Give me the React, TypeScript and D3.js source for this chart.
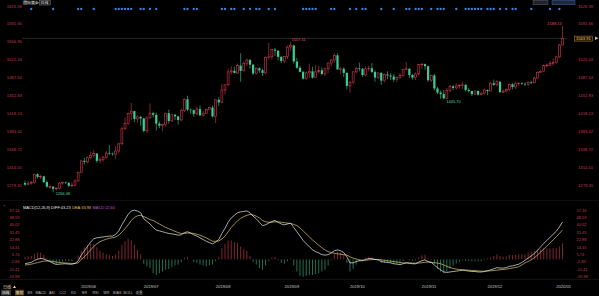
import React from "react";
import * as d3 from "d3";

const WIDTH = 599;
const HEIGHT = 296;

const FIRST_DAY = "2019-05-08";
const LAST_DAY = "2020-01-06";
const HOLIDAYS = ["2020-01-01"];

const OPEN = [1284,1281,1284,1285,1301,1296,1297,1286,1277,1277,1273,1274,1284,1285,1284,1279,1280,1288,
1305,1327,1325,1333,1337,1341,1327,1330,1334,1342,1341,1340,1346,1360,1389,1399,1419,1423,1408,1412,
1409,1385,1410,1419,1416,1399,1395,1397,1419,1404,1416,1413,1406,1424,1446,1426,1425,1418,1427,1415,1419,1426,1430,
1413,1445,1440,1464,1474,1499,1501,1497,1511,1501,1515,1522,1513,1496,1506,1502,1497,1527,1528,1542,1540,1528,
1520,1529,1547,1550,1519,1507,1499,1486,1497,1500,1488,1499,1502,1495,1505,1516,1522,1531,1504,1505,1497,
1472,1479,1499,1506,1505,1493,1505,1506,1499,1488,1497,1482,1494,1492,1490,1484,1488,1492,1504,1505,1493,1488,1495,
1513,1514,1510,1483,1492,1467,1459,1456,1448,1463,1471,1468,1472,1473,1474,1464,1462,1456,1462,1455,1458,
1464,1462,1477,1474,1480,1460,1462,1465,1475,1470,1476,1477,1476,1475,1479,1478,1487,1498,1500,1511,1512,1515,
1517,1528,1551];
const HIGH = [1289,1288,1288,1302,1303,1300,1298,1289,1281,1278,1276,1286,1287,1287,1286,1285,1291,1306,
1328,1333,1335,1345,1348,1342,1334,1337,1346,1358,1343,1355,1362,1393,1411,1420,1439,1424,1415,1414,
1410,1413,1438,1422,1420,1403,1399,1420,1426,1418,1418,1414,1428,1448,1453,1428,1426,1433,1434,1424,1428,1432,1434,
1446,1450,1476,1475,1505,1510,1509,1515,1535,1519,1525,1524,1514,1508,1508,1505,1529,1555,1543,1545,1541,1530,
1530,1550,1557.11,1552,1526,1511,1501,1499,1515,1509,1512,1511,1508,1507,1517,1524,1535,1535,1509,1508,1498,
1482,1500,1509,1517,1506,1510,1511,1516,1502,1498,1499,1496,1500,1497,1495,1490,1497,1505,1518,1506,1495,1498,1514,
1516,1515,1511,1494,1495,1470,1463,1464,1468,1474,1474,1477,1475,1479,1475,1468,1463,1463,1463,1459,1466,
1465,1479,1484,1483,1481,1465,1467,1477,1477,1480,1479,1479,1479,1481,1482,1489,1500,1502,1513,1515,1520,1525,
1530,1553,1588.13];
const LOW = [1279,1280,1281,1283,1293,1292,1284,1275,1273,1266.08,1270,1272,1281,1283,1276,1276,1277,1287,
1304,1320,1322,1330,1333,1323,1322,1325,1331,1338,1337,1330,1342,1357,1387,1396,1406,1402,1401,1395,
1382,1381,1409,1411,1386,1390,1384,1393,1399,1403,1406,1397,1404,1421,1423,1418,1412,1415,1414,1413,1418,1425,1411,
1400,1433,1438,1455,1472,1494,1496,1495,1480,1500,1510,1505,1493,1494,1497,1491,1494,1523,1523,1530,1521,1516,
1516,1524,1540,1515,1505,1498,1484,1484,1487,1486,1487,1496,1492,1491,1497,1510,1517,1503,1495,1489,1465,
1459,1476,1496,1500,1489,1490,1500,1496,1480,1485,1474,1478,1485,1483,1480,1479,1486,1490,1502,1487,1484,1483,1492,
1504,1503,1480,1479,1463,1456,1447,1445.70,1446,1460,1464,1465,1467,1466,1461,1459,1452,1455,1453,1453,1455,
1454,1461,1472,1471,1458,1458,1459,1462,1465,1466,1472,1474,1472,1472,1475,1477,1486,1497,1499,1507,1510,1511,
1515,1525,1550];
const CLOSE = [1281,1284,1285,1301,1296,1297,1286,1277,1277,1273,1274,1284,1285,1284,1279,1280,1288,1305,
1327,1325,1333,1337,1341,1327,1330,1334,1342,1341,1340,1346,1360,1389,1399,1419,1423,1408,1412,1409,
1385,1410,1419,1416,1399,1395,1397,1419,1404,1416,1413,1406,1424,1446,1426,1425,1418,1427,1415,1419,1426,1430,1413,
1445,1440,1464,1474,1499,1501,1497,1511,1501,1515,1522,1513,1496,1506,1502,1497,1527,1528,1542,1540,1528,1520,
1529,1547,1550,1519,1507,1499,1486,1497,1500,1488,1499,1502,1495,1505,1516,1522,1531,1504,1505,1497,1472,
1479,1499,1506,1505,1493,1505,1506,1499,1488,1497,1482,1494,1492,1490,1484,1488,1492,1504,1505,1493,1488,1495,1513,
1514,1510,1483,1492,1467,1459,1456,1448,1463,1471,1468,1472,1473,1474,1464,1462,1456,1462,1455,1458,1464,
1462,1477,1474,1480,1460,1462,1465,1475,1470,1476,1477,1476,1475,1479,1478,1487,1498,1500,1511,1512,1515,1517,
1528,1551,1563.91];

const DIFF = [-5.0,-4.2,-3.4,-1.2,0.2,1.2,0.6,-1.0,-2.4,-4.5,-5.8,-5.5,-5.2,-5.0,-5.4,-5.6,-4.6,-1.8,
5,10,15,20,24,25,25.5,26,26.5,27,27,29,33,40,46,52,56,57,56,54,
47,44,41,37,34,33,32,31,30,29.5,29,28,28.5,31,32,30.5,28.5,27,25,23,21,19.5,18,
20,23,30,36,43,48,51,54,55,55.5,56,54,50,47,43,39,40,42,44,45,43,41,
40,41,42,37,32,27,22,18,15,11,9,7.5,5.5,5,5.5,7.5,10,11,10,8,3,
-4,-4,-2.5,-1.5,-1.5,0,1,1,0,-0.5,-2.5,-3,-3.5,-4,-5,-5.5,-6,-5,-4,-4.5,-5,-5,-3,
-1.5,-0.5,-2.5,-3.5,-6.5,-9.5,-12,-14.5,-15,-14.5,-14,-13.5,-13,-12.5,-13,-13.5,-14,-14,-14.5,-14.5,-14,
-13,-12,-11,-9.5,-10,-10,-9.5,-8,-7.5,-6.5,-5.5,-3.5,-1,1.5,4,7,10.5,14.5,18.5,22,25.5,29,32.5,37.5,43.23];
const DEA = [-6.5,-6.0,-5.5,-4.6,-3.7,-2.7,-2.0,-1.8,-1.9,-2.5,-3.1,-3.6,-3.9,-4.1,-4.4,-4.6,-4.6,-4.1,
0,3,7,11,15,18,20.5,22,23.5,24.5,25,26,28,31.5,35.5,40,45,48.5,50.5,51,
49.5,48,46,45,43,41,39,37,35.5,34,32.5,31,30,30,30.5,30.5,30,29,28,26.5,25,23,21,
21,21.5,23.5,27,32,37,41,44.5,47.5,49.5,51,52,51.5,50,48,45,43.5,43,43,43.5,43.5,43,
42.5,42,41.5,40.5,39,36.5,33,29.5,26,22.5,19.5,16.5,13.5,11,9,8,7,6.5,6,5.5,5,
3,1.5,0.5,-0.5,-1,-1,-0.5,-0.2,0,0,-0.5,-1,-1.5,-2,-2.5,-3,-3.5,-4,-4,-4,-4.2,-4.4,-4.2,
-3.8,-3.2,-3.1,-3.2,-3.9,-4.2,-5,-6.5,-8,-9.4,-10.5,-11.2,-11.6,-11.9,-12.1,-12.5,-12.8,-13,-13.3,-13.5,-13.6,
-13.5,-13.2,-12.9,-12.4,-12,-11.6,-11.2,-10.6,-10,-9.3,-8.4,-6.5,-4,-2.5,-0.5,2,5,8.5,12,15.5,19,22.5,26,30,33.93];
const MACD_HIST = [3.0,3.6,4.2,6.8,7.8,7.8,5.2,1.6,-1.0,-4.0,-5.4,-3.8,-2.6,-1.8,-2.0,-2.0,0.0,4.6,
10,14,16,18,18,14,10,8,6,5,4,6,10,17,21,24,22,17,11,6,
-5,-8,-10,-16,-18,-16,-14,-12,-11,-9,-7,-6,-3,2,3,0,-3,-4,-6,-7,-8,-7,-6,
-2,3,13,18,22,22,20,19,15,12,10,4,-3,-6,-10,-12,-7,-2,2,3,-1,-4,
-5,-2,1,-7,-14,-19,-19.98,-19,-18,-18,-17,-16,-14,-12,-7,-1,6,9,8,5,-4,
-14,-11,-6,-2,-1,2,3,2.4,0,-1,-4,-4,-4,-4,-5,-5,-5,-2,0,-1,-1.6,-1.2,2.4,
4.6,5.4,1.2,-0.6,-5.2,-10.6,-14,-16,-14,-10.2,-7,-4.6,-2.8,-1.2,-1.8,-2,-2.4,-2,-2.4,-2,-0.8,
1,2.4,3.8,5.8,4,3.2,3.4,5.2,5,5.6,5.8,6,6,8,9,10,11,12,13,13,13,13,13,15,18.6];

const PRICE_TICKS = ["1279.31","1314.01","1348.72","1383.42","1418.13","1452.83","1487.54","1522.24","1556.95","1591.66","1626.39"];
const MACD_TICKS = ["-19.98","-11.41","-2.83","5.74","14.31","22.88","31.45","40.02","48.59","57.16"];
const MONTH_LABELS = ["2019/06","2019/07","2019/08","2019/09","2019/10","2019/11","2019/12","2020/01"];
const SIGNAL_DAYS = [2,9,17,18,22,29,30,31,32,33,34,37,38,40,42,51,52,54,55,63,64,66,67,70,72,74,75,78,80,
89,90,91,92,93,98,99,104,106,108,109,114,118,122,123,125,126,127,130,132,133,134,138,141,142,143,144,145,146,
148,149,150,152,154,156,157,162,168,171];
const MARKED_HIGHS = [85, 172];
const MARKED_LOWS = [9, 134];
const LAST_PRICE = 1563.91;
const TITLE = "国际黄金";
const PERIOD = "日线";
const MACD_LEGEND = [
  { text: "MACD(12,26,9) DIFF:43.23", color: "#e6e6e6" },
  { text: "DEA:33.93", color: "#e3c85a" },
  { text: "MACD:22.60", color: "#c24fd0" },
];
const TOOL_TABS = ["BS", "MACD", "ASI", "CCI", "KD", "BR", "RSI", "WR", "BIAS", "BOLL", "设置"];

const UP = "#d43a4c";
const DOWN = "#36cf97";
const AXIS_RED = "#c23a52";
const BG = "#000000";
const FONT = "'Liberation Sans', Arial, sans-serif";
const CJK = "'Noto Sans CJK SC', sans-serif";

const parse = d3.timeParse("%Y-%m-%d");
const fmt = d3.timeFormat("%Y-%m-%d");
const monthFmt = d3.timeFormat("%Y/%m");
const DATES = d3
  .timeDay.range(parse(FIRST_DAY)!, d3.timeDay.offset(parse(LAST_DAY)!, 1))
  .filter((d) => d.getDay() !== 0 && d.getDay() !== 6 && !HOLIDAYS.includes(fmt(d)))
  .slice(0, CLOSE.length);
const KEYS = DATES.map(fmt);

export default function App() {
  const x = d3.scaleBand<string>().domain(KEYS).range([23.44, 564.06]).padding(0);
  const bw = x.bandwidth();
  const cx = (i: number) => (x(KEYS[i]) ?? 0) + bw / 2;

  const y = d3
    .scaleLinear()
    .domain([+PRICE_TICKS[0], +PRICE_TICKS[PRICE_TICKS.length - 1]])
    .range([185.5, 6]);
  const ym = d3
    .scaleLinear()
    .domain([+MACD_TICKS[0], +MACD_TICKS[MACD_TICKS.length - 1]])
    .range([276.7, 210]);

  const idx = d3.range(CLOSE.length);
  const lineDiff = d3.line<number>().x((i) => cx(i)).y((i) => ym(DIFF[i]))(idx) || "";
  const lineDea = d3.line<number>().x((i) => cx(i)).y((i) => ym(DEA[i]))(idx) || "";

  const monthPos = MONTH_LABELS.map((m) => {
    const i = DATES.findIndex((d) => monthFmt(d) === m);
    return { m, x: i >= 0 ? cx(i) : 0 };
  });

  const tabX = d3.scalePoint<string>().domain(TOOL_TABS).range([30, 139]);
  const lastY = y(LAST_PRICE);

  return (
    <svg
      width={WIDTH}
      height={HEIGHT}
      style={{ position: "absolute", left: 0, top: 0, display: "block" }}
    >
      <rect x={0} y={0} width={WIDTH} height={HEIGHT} fill={BG} />

      {/* header */}
      <rect x={22.5} y={0.3} width={15} height={4.8} fill="#1e1e1e" />
      <text x={23.2} y={4.1} fontSize={3.9} fill="#d8d8d8" fontFamily={CJK}>{TITLE}</text>
      <text x={37.6} y={4.1} fontSize={3.9} fill="#bbbbbb" fontFamily={FONT}>•</text>
      <rect x={39.6} y={0.5} width={10.6} height={4.5} fill="#1a1a1a" stroke="#9a9a9a" strokeWidth={0.4} />
      <text x={40.6} y={4.1} fontSize={3.9} fill="#dddddd" fontFamily={CJK}>{PERIOD}</text>

      {/* top right buttons */}
      <rect x={533} y={0.3} width={15} height={4.5} fill="#20242c" stroke="#6a6f7a" strokeWidth={0.4} />
      <rect x={552} y={0.3} width={23} height={4.5} fill="#1c2840" stroke="#4f6fb0" strokeWidth={0.4} />

      {/* signal dots */}
      {SIGNAL_DAYS.map((i) => (
        <circle key={"s" + i} cx={cx(i)} cy={9} r={1.15} fill="#3a86e6" />
      ))}

      {/* price axis labels */}
      {PRICE_TICKS.map((t) => (
        <text key={"pl" + t} x={21.8} y={y(+t)} fontSize={4.2} fill={AXIS_RED} textAnchor="end"
          dominantBaseline="central" fontFamily={FONT}>{t}</text>
      ))}
      {PRICE_TICKS.filter((t) => Math.abs(y(+t) - lastY) > 5).map((t) => (
        <text key={"pr" + t} x={578} y={y(+t)} fontSize={4.2} fill={AXIS_RED}
          dominantBaseline="central" fontFamily={FONT}>{t}</text>
      ))}

      {/* last price line */}
      <line x1={22.5} x2={567} y1={lastY} y2={lastY} stroke="#9a9a9a" strokeWidth={0.5} strokeDasharray="1,1" />
      <rect x={574.5} y={lastY - 2.2} width={18} height={5} fill="#1a1208" stroke="#c8902a" strokeWidth={0.5} />
      <text x={576} y={lastY + 0.3} fontSize={4.1} fill="#eac27a" dominantBaseline="central" fontFamily={FONT}>
        {LAST_PRICE.toFixed(2)}
      </text>
      <path d={`M595,${lastY - 1.8} L598.5,${lastY} L595,${lastY + 1.8} Z`} fill="#bdbdbd" />

      {/* candles */}
      {idx.map((i) => {
        const o = OPEN[i], c = CLOSE[i], h = HIGH[i], l = LOW[i];
        const up = c >= o;
        const top = y(Math.max(o, c));
        const bot = y(Math.min(o, c));
        const bh = Math.max(0.6, bot - top);
        const px = cx(i);
        if (up) {
          return (
            <g key={"c" + i}>
              <line x1={px} x2={px} y1={y(h)} y2={top} stroke={UP} strokeWidth={0.6} />
              <line x1={px} x2={px} y1={top + bh} y2={y(l)} stroke={UP} strokeWidth={0.6} />
              <rect x={px - 0.95} y={top} width={1.9} height={bh} fill={BG} stroke={UP} strokeWidth={0.6} />
            </g>
          );
        }
        return (
          <g key={"c" + i}>
            <line x1={px} x2={px} y1={y(h)} y2={y(l)} stroke={DOWN} strokeWidth={0.6} />
            <rect x={px - 1.1} y={top} width={2.2} height={bh} fill={DOWN} />
          </g>
        );
      })}

      {/* extreme markers */}
      {MARKED_HIGHS.map((i, k) => {
        const px = cx(i);
        const right = k === 0;
        return (
          <text key={"mh" + i} x={right ? px + 0.8 : px - 0.8} y={y(HIGH[i]) - 2.6} fontSize={4}
            fill="#e04a5c" textAnchor={right ? "start" : "end"} dominantBaseline="central" fontFamily={FONT}>
            {HIGH[i].toFixed(2)}
          </text>
        );
      })}
      {MARKED_LOWS.map((i) => (
        <text key={"ml" + i} x={cx(i) + 2.5} y={y(LOW[i]) + 1.6} fontSize={4} fill="#4fd69e"
          dominantBaseline="central" fontFamily={FONT}>
          {LOW[i].toFixed(2)}
        </text>
      ))}

      {/* panel separators */}
      <line x1={0} x2={WIDTH} y1={200.5} y2={200.5} stroke="#161616" strokeWidth={0.6} />
      <line x1={0} x2={WIDTH} y1={279.5} y2={279.5} stroke="#1e1e1e" strokeWidth={0.6} />

      {/* MACD legend */}
      <text x={3} y={205.5} fontSize={4} fill="#c8485a" dominantBaseline="central" fontFamily={FONT}>×</text>
      <text x={23} y={206.5} fontSize={3.9} dominantBaseline="central" fontFamily={FONT}>
        {MACD_LEGEND.map((s, k) => (
          <tspan key={"lg" + k} fill={s.color} dx={k === 0 ? 0 : 1.6}>{s.text}</tspan>
        ))}
      </text>

      {/* MACD axis */}
      {MACD_TICKS.map((t) => (
        <text key={"ml" + t} x={19.5} y={ym(+t)} fontSize={4} fill={AXIS_RED} textAnchor="end"
          dominantBaseline="central" fontFamily={FONT}>{t}</text>
      ))}
      {MACD_TICKS.map((t) => (
        <text key={"mr" + t} x={576.5} y={ym(+t)} fontSize={4} fill={AXIS_RED}
          dominantBaseline="central" fontFamily={FONT}>{t}</text>
      ))}

      {/* histogram */}
      {idx.map((i) => (
        <line key={"h" + i} x1={cx(i)} x2={cx(i)} y1={ym(0)} y2={ym(MACD_HIST[i])}
          stroke={MACD_HIST[i] >= 0 ? "#a8303f" : "#2f9470"} strokeWidth={0.75} />
      ))}

      <path d={lineDea} fill="none" stroke="#dccb6a" strokeWidth={0.7} />
      <path d={lineDiff} fill="none" stroke="#eeeeee" strokeWidth={0.7} />

      {/* month labels */}
      {monthPos.map((m) => (
        <text key={m.m} x={m.x} y={286} fontSize={4.1} fill="#c8c8c8" dominantBaseline="central" fontFamily={FONT}>
          {m.m}
        </text>
      ))}

      {/* bottom toolbar */}
      <text x={3} y={286.5} fontSize={4} fill="#e0d6b0" dominantBaseline="central" fontFamily={CJK}>{PERIOD}</text>
      <path d="M13,288 L14.5,285.5 L16,288 Z" fill="#e0d6b0" />
      <rect x={1} y={289.8} width={10} height={5.6} fill="#3a3a3a" />
      <text x={2} y={292.7} fontSize={3.6} fill="#f0f0f0" dominantBaseline="central" fontFamily={CJK}>{PERIOD}</text>
      <rect x={15} y={289.8} width={9} height={5.6} fill="#5e4320" />
      <text x={15.8} y={292.7} fontSize={3.6} fill="#f0e0c0" dominantBaseline="central" fontFamily={CJK}>复权</text>
      {TOOL_TABS.map((t) => (
        <text key={"tab" + t} x={tabX(t) ?? 0} y={292.7} fontSize={3.6} fill="#bdbdbd" textAnchor="middle"
          dominantBaseline="central" fontFamily={t === "设置" ? CJK : FONT}>{t}</text>
      ))}
    </svg>
  );
}
